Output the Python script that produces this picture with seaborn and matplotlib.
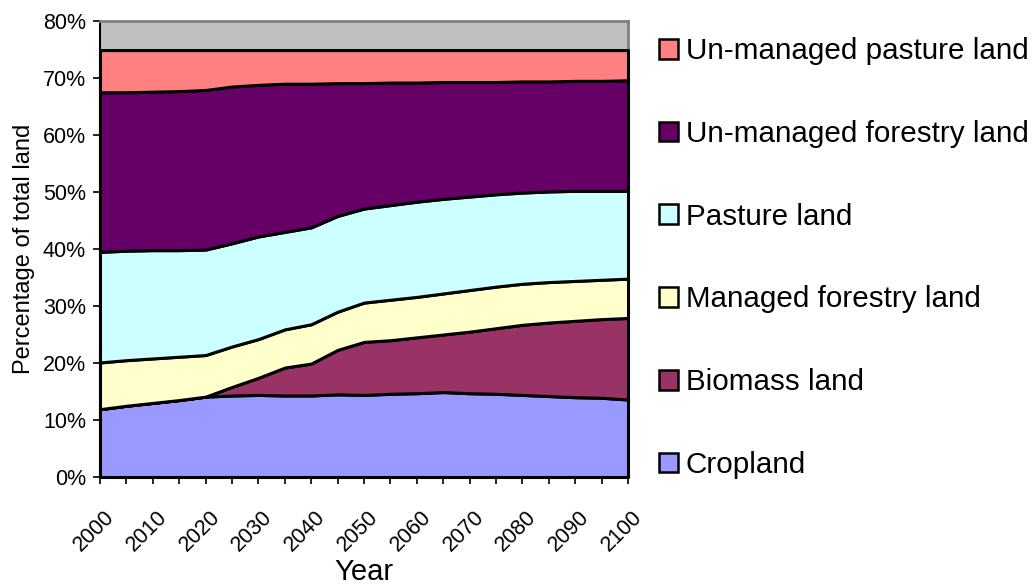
import numpy as np
import pandas as pd
import matplotlib
matplotlib.use("Agg")
import matplotlib.pyplot as plt
import matplotlib.transforms as mtransforms
from matplotlib.patches import Patch
from matplotlib.ticker import MultipleLocator, FuncFormatter
import seaborn as sns

years = list(range(2000, 2101, 5))

# share of total land (%), per layer, bottom to top
cropland = [11.9, 12.5, 13.0, 13.5, 14.1, 14.3, 14.4, 14.3, 14.3, 14.5, 14.4,
            14.6, 14.7, 14.9, 14.7, 14.6, 14.4, 14.2, 14.0, 13.9, 13.6]
biomass = [0.0, 0.0, 0.0, 0.0, 0.0, 1.5, 3.0, 4.9, 5.6, 7.8, 9.3,
           9.4, 9.8, 10.1, 10.8, 11.5, 12.3, 12.9, 13.4, 13.8, 14.3]
managed_forestry = [8.2, 8.0, 7.8, 7.6, 7.3, 7.1, 6.8, 6.7, 6.9, 6.7, 6.9,
                    7.1, 7.1, 7.2, 7.3, 7.3, 7.2, 7.1, 7.0, 6.9, 6.9]
pasture = [19.4, 19.2, 19.0, 18.7, 18.5, 18.1, 18.0, 17.1, 17.0, 16.8, 16.5,
           16.6, 16.7, 16.6, 16.4, 16.2, 16.0, 15.9, 15.8, 15.6, 15.4]
unmanaged_forestry = [28.0, 27.8, 27.8, 27.9, 28.0, 27.5, 26.6, 26.0, 25.2, 23.3, 22.0,
                      21.5, 20.9, 20.5, 20.1, 19.7, 19.5, 19.3, 19.3, 19.3, 19.4]
unmanaged_pasture = [7.4, 7.4, 7.3, 7.2, 7.0, 6.4, 6.1, 5.9, 5.9, 5.8, 5.8,
                     5.7, 5.7, 5.6, 5.6, 5.6, 5.5, 5.5, 5.4, 5.4, 5.3]

labels = ["Cropland", "Biomass land", "Managed forestry land", "Pasture land",
          "Un-managed forestry land", "Un-managed pasture land"]
colors = ["#9999FF", "#993366", "#FFFFCC", "#CCFFFF", "#660066", "#FF8080"]

df = pd.DataFrame({
    labels[0]: cropland,
    labels[1]: biomass,
    labels[2]: managed_forestry,
    labels[3]: pasture,
    labels[4]: unmanaged_forestry,
    labels[5]: unmanaged_pasture,
}, index=years)

sns.set_theme(style="white")
plt.rcParams["font.family"] = ["Liberation Sans", "DejaVu Sans"]
for key in ["text.color", "axes.labelcolor", "xtick.color", "ytick.color"]:
    plt.rcParams[key] = "black"

fig = plt.figure(figsize=(10.32, 5.87), dpi=100)
ax = fig.add_axes([100 / 1032, 1 - 477 / 587, 528 / 1032, 456 / 587])
ax.set_facecolor("#C0C0C0")

polys = ax.stackplot(df.index, [df[c] for c in labels], colors=colors,
                     edgecolor="black", linewidth=2.2)
for p in polys:
    p.set_zorder(3)
    p.set_clip_on(False)

ax.set_xlim(2000, 2100)
ax.set_ylim(0, 80)
ax.set_xticks(years[::2])
ax.xaxis.set_minor_locator(MultipleLocator(5))
ax.yaxis.set_major_locator(MultipleLocator(10))
ax.yaxis.set_major_formatter(FuncFormatter(lambda v, _: f"{v:.0f}%"))
ax.tick_params(axis="both", which="both", direction="out", length=5, width=1.2,
               color="black")
ax.tick_params(axis="y", labelsize=15.5, pad=5)
ax.tick_params(axis="x", which="major", labelsize=15.5, pad=16)
ax.tick_params(bottom=True, left=True, which="both")
ax.tick_params(axis="y", which="minor", left=False)
shift = mtransforms.ScaledTranslation(-6 / 100, 0, fig.dpi_scale_trans)
for lab in ax.get_xticklabels():
    lab.set_rotation(45)
    lab.set_ha("center")
    lab.set_transform(lab.get_transform() + shift)

for side in ["left", "bottom"]:
    ax.spines[side].set_color("black")
    ax.spines[side].set_linewidth(1.5)
for side in ["top", "right"]:
    ax.spines[side].set_color("#808080")
    ax.spines[side].set_linewidth(2)

ax.set_xlabel("Year", fontsize=21, labelpad=2)
ax.set_ylabel("Percentage of total land", fontsize=17, labelpad=6)

handles = [Patch(facecolor=c, edgecolor="black", linewidth=1.8) for c in colors]
fig.legend(handles[::-1], labels[::-1], loc="center left",
           bbox_to_anchor=(659 / 1032, 1 - 258 / 587), frameon=False,
           fontsize=21.3, handlelength=0.65, handleheight=0.65,
           handletextpad=0.26, labelspacing=1.85, borderpad=0, borderaxespad=0)

fig.savefig("out.png", dpi=100)
